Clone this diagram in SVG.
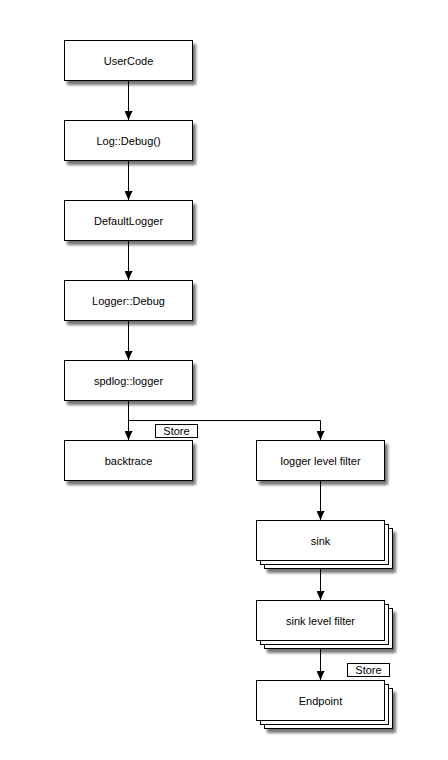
<svg xmlns="http://www.w3.org/2000/svg" width="448" height="760" viewBox="0 0 448 760">
<style>
.box{fill:#fff;stroke:#000;stroke-width:1}
.lbl{font-family:"Liberation Sans",Arial,sans-serif;font-size:11px;fill:#000;text-anchor:middle;dominant-baseline:central}
.tag{fill:#fff;stroke:#000;stroke-width:1}
.edge{fill:none;stroke:#000;stroke-width:1}
</style>
<defs>
<filter id="sh" x="-10%" y="-20%" width="130%" height="160%">
<feGaussianBlur in="SourceAlpha" stdDeviation="1.6"/>
<feOffset dx="3" dy="4" result="b"/>
<feComponentTransfer><feFuncA type="linear" slope="0.55"/></feComponentTransfer>
<feMerge><feMergeNode/><feMergeNode in="SourceGraphic"/></feMerge>
</filter>
<marker id="ah" markerWidth="9" markerHeight="8" refX="9" refY="4" orient="auto" markerUnits="userSpaceOnUse" viewBox="0 0 9 8">
<path d="M0,0 L1,0 L1,0.5 L9,4 L1,7.5 L1,8 L0,8 Z" fill="#000"/>
</marker>
</defs>
<rect width="448" height="760" fill="#fff"/>
<g id="connectors">
<path class="edge" d="M128.5,80 V120" marker-end="url(#ah)"/>
<path class="edge" d="M128.5,160 V200" marker-end="url(#ah)"/>
<path class="edge" d="M128.5,240 V280" marker-end="url(#ah)"/>
<path class="edge" d="M128.5,320 V360" marker-end="url(#ah)"/>
<path class="edge" d="M128.5,400 V440" marker-end="url(#ah)"/>
<path class="edge" d="M128.5,420.5 H320.5 V440" marker-end="url(#ah)"/>
<path class="edge" d="M320.5,480 V520" marker-end="url(#ah)"/>
<path class="edge" d="M320.5,560 V600" marker-end="url(#ah)"/>
<path class="edge" d="M320.5,640 V680" marker-end="url(#ah)"/>
</g>
<g id="UserCode"><rect class="box" x="64.5" y="40.5" width="128" height="40" filter="url(#sh)"/><text class="lbl" x="128.5" y="60.5">UserCode</text></g>
<g id="LogDebug"><rect class="box" x="64.5" y="120.5" width="128" height="40" filter="url(#sh)"/><text class="lbl" x="128.5" y="140.5">Log::Debug()</text></g>
<g id="DefaultLogger"><rect class="box" x="64.5" y="200.5" width="128" height="40" filter="url(#sh)"/><text class="lbl" x="128.5" y="220.5">DefaultLogger</text></g>
<g id="LoggerDebug"><rect class="box" x="64.5" y="280.5" width="128" height="40" filter="url(#sh)"/><text class="lbl" x="128.5" y="300.5">Logger::Debug</text></g>
<g id="spdlogLogger"><rect class="box" x="64.5" y="360.5" width="128" height="40" filter="url(#sh)"/><text class="lbl" x="128.5" y="380.5">spdlog::logger</text></g>
<g id="store1"><rect class="tag" x="155.5" y="424.5" width="42" height="13"/><text class="lbl" x="176.5" y="431">Store</text></g>
<g id="backtrace"><rect class="box" x="64.5" y="440.5" width="128" height="40" filter="url(#sh)"/><text class="lbl" x="128.5" y="460.5">backtrace</text></g>
<g id="loggerLevelFilter"><rect class="box" x="256.5" y="440.5" width="128" height="40" filter="url(#sh)"/><text class="lbl" x="320.5" y="460.5">logger level filter</text></g>
<g id="sink">
<rect class="box" x="264.5" y="528.5" width="128" height="40" filter="url(#sh)"/>
<rect class="box" x="260.5" y="524.5" width="128" height="40"/>
<rect class="box" x="256.5" y="520.5" width="128" height="40"/>
<text class="lbl" x="320.5" y="540.5">sink</text></g>
<g id="sinkLevelFilter">
<rect class="box" x="264.5" y="608.5" width="128" height="40" filter="url(#sh)"/>
<rect class="box" x="260.5" y="604.5" width="128" height="40"/>
<rect class="box" x="256.5" y="600.5" width="128" height="40"/>
<text class="lbl" x="320.5" y="620.5">sink level filter</text></g>
<g id="store2"><rect class="tag" x="347.5" y="663.5" width="42" height="13"/><text class="lbl" x="368.5" y="670">Store</text></g>
<g id="Endpoint">
<rect class="box" x="264.5" y="688.5" width="128" height="40" filter="url(#sh)"/>
<rect class="box" x="260.5" y="684.5" width="128" height="40"/>
<rect class="box" x="256.5" y="680.5" width="128" height="40"/>
<text class="lbl" x="320.5" y="700.5">Endpoint</text></g>
</svg>
